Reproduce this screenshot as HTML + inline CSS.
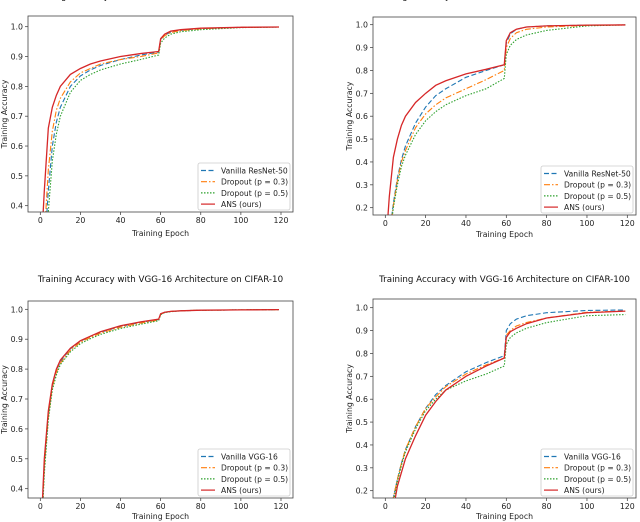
<!DOCTYPE html>
<html><head><meta charset="utf-8"><style>
html,body{margin:0;background:#fff;overflow:hidden;width:640px;height:522px;}
svg{display:block;overflow:hidden;font-family:"DejaVu Sans","Liberation Sans",sans-serif;}
</style></head><body>
<svg id="fig" width="640" height="522" viewBox="0 0 640 522" xmlns="http://www.w3.org/2000/svg"></svg>
<script>
const epochs=[0,2,4,6,8,10,15,20,25,30,40,50,59,60,62,65,70,80,100,119];
const xTicks=[0,20,40,60,80,100,120];
const seriesNames=["Vanilla ResNet-50","Dropout (p = 0.3)","Dropout (p = 0.5)","ANS (ours)"];
const seriesNamesVgg=["Vanilla VGG-16","Dropout (p = 0.3)","Dropout (p = 0.5)","ANS (ours)"];
const yTicksA=[0.4,0.5,0.6,0.7,0.8,0.9,1.0];
const yTicksB=[0.2,0.3,0.4,0.5,0.6,0.7,0.8,0.9,1.0];
// Top-left: ResNet-50 CIFAR-10
const tlVanilla=[0.1,0.25,0.45,0.6,0.68,0.73,0.8,0.835,0.855,0.87,0.89,0.905,0.915,0.958,0.972,0.982,0.988,0.994,0.998,0.999];
const tlDrop3=[0.12,0.3,0.52,0.65,0.72,0.76,0.815,0.845,0.86,0.875,0.89,0.9,0.912,0.955,0.97,0.98,0.987,0.993,0.998,0.999];
const tlDrop5=[0.08,0.2,0.38,0.55,0.64,0.7,0.78,0.82,0.84,0.855,0.875,0.89,0.905,0.945,0.962,0.975,0.983,0.99,0.997,0.999];
const tlAns=[0.2,0.45,0.66,0.73,0.77,0.8,0.84,0.86,0.875,0.885,0.9,0.91,0.917,0.96,0.975,0.985,0.99,0.995,0.998,0.999];
// Top-right: ResNet-50 CIFAR-100
const trVanilla=[-0.1,0.08,0.22,0.33,0.41,0.47,0.57,0.64,0.69,0.72,0.77,0.8,0.825,0.92,0.96,0.98,0.99,0.995,0.998,0.999];
const trDrop3=[-0.1,0.07,0.21,0.32,0.4,0.45,0.55,0.61,0.65,0.68,0.72,0.76,0.8,0.9,0.94,0.965,0.98,0.99,0.997,0.999];
const trDrop5=[-0.1,0.06,0.2,0.3,0.38,0.43,0.52,0.58,0.62,0.65,0.69,0.72,0.765,0.87,0.91,0.935,0.955,0.975,0.995,0.999];
const trAns=[0.0,0.25,0.42,0.5,0.56,0.6,0.66,0.7,0.735,0.755,0.785,0.805,0.825,0.93,0.965,0.98,0.99,0.995,0.998,0.999];
// Bottom-left: VGG-16 CIFAR-10
const blVanilla=[0.18,0.48,0.65,0.745,0.795,0.825,0.868,0.893,0.91,0.923,0.943,0.956,0.966,0.984,0.99,0.993,0.995,0.997,0.998,0.999];
const blDrop3=[0.17,0.47,0.64,0.74,0.79,0.82,0.863,0.89,0.906,0.92,0.94,0.954,0.964,0.983,0.99,0.993,0.995,0.997,0.998,0.999];
const blDrop5=[0.16,0.45,0.63,0.73,0.78,0.815,0.858,0.885,0.902,0.916,0.936,0.95,0.962,0.982,0.989,0.992,0.995,0.997,0.998,0.999];
const blAns=[0.2,0.5,0.66,0.75,0.8,0.83,0.87,0.895,0.91,0.925,0.945,0.958,0.967,0.985,0.99,0.993,0.995,0.997,0.998,0.999];
// Bottom-right: VGG-16 CIFAR-100
const brVanilla=[-0.1,0.05,0.17,0.25,0.32,0.38,0.48,0.56,0.62,0.66,0.72,0.76,0.79,0.9,0.93,0.95,0.965,0.978,0.988,0.99];
const brDrop3=[-0.1,0.05,0.17,0.25,0.32,0.38,0.48,0.56,0.61,0.655,0.71,0.75,0.78,0.88,0.9,0.92,0.935,0.955,0.98,0.985];
const brDrop5=[-0.1,0.03,0.15,0.24,0.31,0.37,0.47,0.55,0.6,0.64,0.68,0.71,0.745,0.84,0.87,0.89,0.91,0.935,0.965,0.97];
const brAns=[-0.1,0.0,0.12,0.22,0.28,0.34,0.44,0.53,0.59,0.64,0.7,0.745,0.78,0.87,0.895,0.91,0.93,0.955,0.978,0.985];

const NS="http://www.w3.org/2000/svg";
const fig=document.getElementById('fig');
function el(tag,attrs,parent){const e=document.createElementNS(NS,tag);for(const k in attrs)e.setAttribute(k,attrs[k]);(parent||fig).appendChild(e);return e;}
const colors=["#1f77b4","#ff7f0e","#2ca02c","#d62728"];
const dashes=["5,2.5","6,2,1.5,2","1.5,1.5",""];
let clipId=0;
function panel(cfg){
  const g=el('g',{});
  
  
  const {L,R,T,B,x0,x120,yTop,yBot,y0v,y1v}=cfg;
  const sx=v=>x0+(x120-x0)*v/120;
  const sy=v=>yBot+(yTop-yBot)*(v-y0v)/(y1v-y0v);
  const cid='clip'+(clipId++);
  const cp=el('clipPath',{id:cid},g);el('rect',{x:L,y:T,width:R-L,height:B-T},cp);
  const t=el('text',{x:(L+R)/2,y:cfg.titleY,'text-anchor':'middle','font-size':'8.7',fill:'#111'},g);
  t.textContent=cfg.title;
  
  
  xTicks.forEach(v=>{
    const x=sx(v);
    el('line',{x1:x,x2:x,y1:B,y2:B+3,stroke:'#333','stroke-width':0.7},g);
    const tx=el('text',{x:x,y:B+11,'text-anchor':'middle','font-size':'7.8',fill:'#222'},g);
    tx.textContent=v;
    
    
  });
  cfg.yTicks.forEach(v=>{
    const y=sy(v);
    el('line',{x1:L-3,x2:L,y1:y,y2:y,stroke:'#333','stroke-width':0.7},g);
    const ty=el('text',{x:L-5,y:y+3,'text-anchor':'end','font-size':'7.8',fill:'#222'},g);
    ty.textContent=v.toFixed(1);
    
    
  });
  const xl=el('text',{x:(L+R)/2,y:B+cfg.xlOff,'text-anchor':'middle','font-size':'7.8',fill:'#222'},g);
  xl.textContent='Training Epoch';
  
  
  const yx=cfg.yLabelX, yy=(T+B)/2;
  const yl=el('text',{x:yx,y:yy,'text-anchor':'middle','font-size':'7.8',fill:'#222',transform:`rotate(-90 ${yx} ${yy})`},g);
  yl.textContent='Training Accuracy';
  
  
  const lg=el('g',{'clip-path':`url(#${cid})`},g);
  cfg.series.forEach((s,i)=>{
    const d=epochs.map((e,j)=>(j?'L':'M')+sx(e).toFixed(2)+','+sy(s[j]).toFixed(2)).join(' ');
    const attrs={d:d,fill:'none',stroke:colors[i],'stroke-width':i==3?1.3:1.1};
    if(dashes[i])attrs['stroke-dasharray']=dashes[i];
    const p=el('path',attrs,lg);
    
    
  });
  el('rect',{x:L,y:T,width:R-L,height:B-T,fill:'none',stroke:'#444','stroke-width':0.8},g);
  const lw=92,lh=47,lx=R-lw-3,ly=B-lh-2;
  const leg=el('g',{},g);
  
  
  el('rect',{x:lx,y:ly,width:lw,height:lh,rx:2,fill:'#fff',stroke:'#ccc','stroke-width':0.8},leg);
  cfg.names.forEach((n,i)=>{
    const y=ly+7.5+i*11.2;
    const la={x1:lx+3,x2:lx+17,y1:y,y2:y,stroke:colors[i],'stroke-width':1.2};
    if(dashes[i])la['stroke-dasharray']=dashes[i];
    el('line',la,leg);
    const tt=el('text',{x:lx+23,y:y+3,'font-size':'7.6',fill:'#222'},leg);
    tt.textContent=n;
    
    
  });
}
panel({name:'panel-resnet-cifar10',title:'Training Accuracy with ResNet-50 Architecture on CIFAR-10',titleY:-1,L:28,R:293,T:16,B:212,x0:40.3,x120:281,yTop:26.7,yBot:205.7,y1v:1.0,y0v:0.4,yTicks:yTicksA,yLabelX:7,xlOff:24,names:seriesNames,series:[tlVanilla,tlDrop3,tlDrop5,tlAns]});
panel({name:'panel-resnet-cifar100',title:'Training Accuracy with ResNet-50 Architecture on CIFAR-100',titleY:-1,L:373,R:636,T:17,B:215,x0:385.3,x120:627.3,yTop:24.7,yBot:207.7,y1v:1.0,y0v:0.2,yTicks:yTicksB,yLabelX:352,xlOff:22,names:seriesNames,series:[trVanilla,trDrop3,trDrop5,trAns]});
panel({name:'panel-vgg-cifar10',title:'Training Accuracy with VGG-16 Architecture on CIFAR-10',titleY:282,L:28,R:293,T:301,B:498,x0:40.3,x120:281,yTop:309.3,yBot:488.7,y1v:1.0,y0v:0.4,yTicks:yTicksA,yLabelX:7,xlOff:21,names:seriesNamesVgg,series:[blVanilla,blDrop3,blDrop5,blAns]});
panel({name:'panel-vgg-cifar100',title:'Training Accuracy with VGG-16 Architecture on CIFAR-100',titleY:282,L:373,R:636,T:299,B:498,x0:385.3,x120:627.3,yTop:307.7,yBot:490.7,y1v:1.0,y0v:0.2,yTicks:yTicksB,yLabelX:352,xlOff:21,names:seriesNamesVgg,series:[brVanilla,brDrop3,brDrop5,brAns]});
</script>
</body></html>
